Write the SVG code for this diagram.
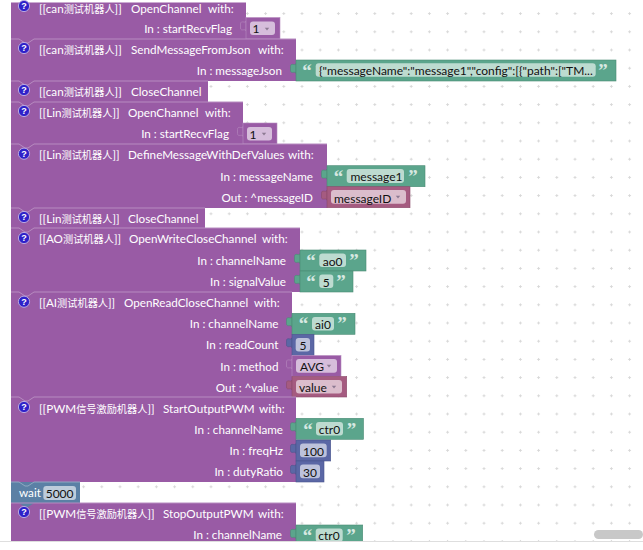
<svg xmlns="http://www.w3.org/2000/svg" width="643" height="550" viewBox="0 0 643 550">
<style>
text{font-family:"Lato","Noto Sans CJK SC",sans-serif;font-size:11.7px;fill:#fff}
.c{font-size:10.2px}
.e{text-anchor:end}
.f{fill:#111;text-anchor:middle;font-size:12px}
.s{fill:#111;font-size:12px}
.q{font-family:"Liberation Serif",serif;font-weight:bold;font-size:19px;fill:#d6e8e1;text-anchor:middle}
.h{font-family:"Liberation Sans",sans-serif;font-weight:bold;font-size:9px;text-anchor:middle}
.b{fill:#995ba5}
.hl{fill:none;stroke:#b78cc0;stroke-width:1}
.ic{fill:#2f21c9;stroke:#b9a8e0;stroke-width:1}
.g{fill:#5ba58c;stroke:#4a8a74;stroke-width:.6}
.n{fill:#5b67a5;stroke:#4a558c;stroke-width:.6}
.d{fill:#995ba5;stroke:#b78cc0;stroke-width:.6}
.v{fill:#a55b80;stroke:#8a4a6a;stroke-width:.6}
.w{fill:#5b80a5}
.fg{fill:#bddbd0}.fn{fill:#bdc2db}.fd{fill:#d6bddb}.fv{fill:#dbbdcc}.fw{fill:#bdccdb}
.ar{fill:#8d7a92}
</style>
<defs>
<pattern id="dots" width="18.2" height="18.2" patternUnits="userSpaceOnUse" patternTransform="translate(1.7 4.5)">
<path d="M7.6 9.1h3M9.1 7.6v3" stroke="#d8d8d8" stroke-width="1" fill="none"/>
</pattern>
<path id="tab" d="M0 3.5c0 3-5.5-1.5-5.5 3v4c0 4 5.5 0 5.5 3z"/>
<path id="arrow" d="M-2.2 -1.2h4.4l-2.2 2.6z"/>
</defs>
<rect width="643" height="550" fill="#fff"/>
<rect x="12" y="2" width="631" height="540" fill="url(#dots)"/>

<g id="block-can-open">
<rect class="b" x="11" y="2.5" width="235" height="36.5"/>
<circle class="ic" cx="24" cy="6" r="5.6"/><text class="h" x="24" y="9.2">?</text>
<text x="39" y="13">[[can<tspan class="c">测试机器人</tspan>]]</text><text x="131" y="13">OpenChannel</text><text x="208" y="13">with:</text>
<text class="e" x="232" y="33">In : startRecvFlag</text>
</g>
<g id="value-can-flag">
<use href="#tab" class="d" x="246" y="17.5"/><rect class="d" x="246" y="17.5" width="34" height="21.5"/>
<rect class="fd" x="250" y="21.5" width="25" height="13.5" rx="3"/><text class="f" x="256" y="33">1</text><use href="#arrow" class="ar" x="267" y="29"/>
</g>

<g id="block-can-send">
<rect class="b" x="11" y="39" width="285" height="42"/>
<path class="hl" d="M11 39H19l6 4h3l6-4H296"/>
<circle class="ic" cx="24" cy="48" r="5.6"/><text class="h" x="24" y="51.2">?</text>
<text x="39" y="54">[[can<tspan class="c">测试机器人</tspan>]]</text><text x="131" y="54">SendMessageFromJson</text><text x="258" y="54">with:</text>
<text class="e" x="282" y="75">In : messageJson</text>
</g>
<g id="value-message-json">
<use href="#tab" class="g" x="296" y="60"/><rect class="g" x="296" y="60" width="320" height="21"/>
<text class="q" x="307" y="77">“</text><rect class="fg" x="315.7" y="63.3" width="280" height="13.5" rx="3"/>
<text class="s" x="319" y="75">{"messageName":"message1","config":[{"path":["TM...</text><text class="q" x="603" y="77">”</text>
</g>

<g id="block-can-close">
<rect class="b" x="11" y="81" width="197" height="21"/>
<path class="hl" d="M11 81H19l6 4h3l6-4H208"/>
<circle class="ic" cx="24" cy="90" r="5.6"/><text class="h" x="24" y="93.2">?</text>
<text x="39" y="96">[[can<tspan class="c">测试机器人</tspan>]]</text><text x="131" y="96">CloseChannel</text>
</g>

<g id="block-lin-open">
<rect class="b" x="11" y="102" width="232" height="42"/>
<path class="hl" d="M11 102H19l6 4h3l6-4H243"/>
<circle class="ic" cx="24" cy="111" r="5.6"/><text class="h" x="24" y="114.2">?</text>
<text x="39" y="117">[[Lin<tspan class="c">测试机器人</tspan>]]</text><text x="128" y="117">OpenChannel</text><text x="205" y="117">with:</text>
<text class="e" x="229" y="138">In : startRecvFlag</text>
</g>
<g id="value-lin-flag">
<use href="#tab" class="d" x="243" y="123"/><rect class="d" x="243" y="123" width="34" height="21"/>
<rect class="fd" x="247" y="127" width="25" height="13.5" rx="3"/><text class="f" x="253" y="138.5">1</text><use href="#arrow" class="ar" x="264" y="134"/>
</g>

<g id="block-lin-define">
<rect class="b" x="11" y="144" width="316" height="64"/>
<path class="hl" d="M11 144H19l6 4h3l6-4H327"/>
<circle class="ic" cx="24" cy="153.7" r="5.6"/><text class="h" x="24" y="157">?</text>
<text x="39" y="158.5">[[Lin<tspan class="c">测试机器人</tspan>]]</text><text x="128" y="158.5">DefineMessageWithDefValues</text><text x="288" y="158.5">with:</text>
<text class="e" x="313" y="181">In : messageName</text>
<text class="e" x="313" y="202">Out : ^messageID</text>
</g>
<g id="value-message-name">
<use href="#tab" class="g" x="327" y="165.7"/><rect class="g" x="327" y="165.7" width="98" height="21"/>
<text class="q" x="338.5" y="183">“</text><rect class="fg" x="346.7" y="169" width="57.3" height="14" rx="3"/>
<text class="s" x="350.5" y="181.3">message1</text><text class="q" x="413" y="183">”</text>
</g>
<g id="value-message-id">
<use href="#tab" class="v" x="327" y="186.7"/><rect class="v" x="327" y="186.7" width="83" height="21"/>
<rect class="fv" x="331" y="190" width="75" height="13.7" rx="3"/><text class="s" x="334" y="202.5">messageID</text><use href="#arrow" class="ar" x="398" y="197"/>
</g>

<g id="block-lin-close">
<rect class="b" x="11" y="208" width="194" height="20"/>
<path class="hl" d="M11 208H19l6 4h3l6-4H205"/>
<circle class="ic" cx="24" cy="217" r="5.6"/><text class="h" x="24" y="220.2">?</text>
<text x="39" y="222.7">[[Lin<tspan class="c">测试机器人</tspan>]]</text><text x="128" y="222.7">CloseChannel</text>
</g>

<g id="block-ao">
<rect class="b" x="11" y="228" width="289" height="64"/>
<path class="hl" d="M11 228H19l6 4h3l6-4H300"/>
<circle class="ic" cx="24" cy="238" r="5.6"/><text class="h" x="24" y="241.2">?</text>
<text x="39" y="243.3">[[AO<tspan class="c">测试机器人</tspan>]]</text><text x="129" y="243.3">OpenWriteCloseChannel</text><text x="262" y="243.3">with:</text>
<text class="e" x="286" y="265">In : channelName</text>
<text class="e" x="286" y="286">In : signalValue</text>
</g>
<g id="value-ao0">
<use href="#tab" class="g" x="300" y="250"/><rect class="g" x="300" y="250" width="66" height="21"/>
<text class="q" x="311" y="267">“</text><rect class="fg" x="319.3" y="253.5" width="26.7" height="13.5" rx="3"/>
<text class="f" x="332.6" y="265.5">ao0</text><text class="q" x="354" y="267">”</text>
</g>
<g id="value-signal">
<use href="#tab" class="g" x="300" y="271"/><rect class="g" x="300" y="271" width="53" height="21"/>
<text class="q" x="311" y="288">“</text><rect class="fg" x="319.3" y="274.5" width="14" height="13.5" rx="3"/>
<text class="f" x="326.3" y="286.5">5</text><text class="q" x="341" y="288">”</text>
</g>

<g id="block-ai">
<rect class="b" x="11" y="292" width="281" height="105"/>
<path class="hl" d="M11 292H19l6 4h3l6-4H292"/>
<circle class="ic" cx="24" cy="301.7" r="5.6"/><text class="h" x="24" y="305">?</text>
<text x="39" y="306.7">[[AI<tspan class="c">测试机器人</tspan>]]</text><text x="124" y="306.7">OpenReadCloseChannel</text><text x="254" y="306.7">with:</text>
<text class="e" x="278.5" y="328">In : channelName</text>
<text class="e" x="278.5" y="349">In : readCount</text>
<text class="e" x="278.5" y="370.5">In : method</text>
<text class="e" x="278.5" y="391.5">Out : ^value</text>
</g>
<g id="value-ai0">
<use href="#tab" class="g" x="292" y="313.3"/><rect class="g" x="292" y="313.3" width="63" height="21"/>
<text class="q" x="303.5" y="330.3">“</text><rect class="fg" x="312" y="317" width="22" height="13.5" rx="3"/>
<text class="f" x="323" y="328.5">ai0</text><text class="q" x="342" y="330.3">”</text>
</g>
<g id="value-read-count">
<use href="#tab" class="n" x="292" y="334.3"/><rect class="n" x="292" y="334.3" width="22" height="21"/>
<rect class="fn" x="295.7" y="338" width="14.3" height="13.5" rx="3"/><text class="f" x="303" y="349.5">5</text>
</g>
<g id="value-method">
<use href="#tab" class="d" x="292" y="355.5"/><rect class="d" x="292" y="355.5" width="49" height="21"/>
<rect class="fd" x="296" y="359" width="41" height="13.7" rx="3"/><text class="s" x="300" y="371">AVG</text><use href="#arrow" class="ar" x="329" y="366"/>
</g>
<g id="value-value">
<use href="#tab" class="v" x="292" y="376.5"/><rect class="v" x="292" y="376.5" width="54.7" height="20.5"/>
<rect class="fv" x="296" y="380" width="46" height="13.5" rx="3"/><text class="s" x="299" y="392">value</text><use href="#arrow" class="ar" x="334" y="387"/>
</g>

<g id="block-pwm-start">
<rect class="b" x="11" y="397" width="285" height="85"/>
<path class="hl" d="M11 397H19l6 4h3l6-4H296"/>
<circle class="ic" cx="24" cy="407" r="5.6"/><text class="h" x="24" y="410.2">?</text>
<text x="39" y="412.7">[[PWM<tspan class="c">信号激励机器人</tspan>]]</text><text x="163" y="412.7">StartOutputPWM</text><text x="259" y="412.7">with:</text>
<text class="e" x="283" y="434">In : channelName</text>
<text class="e" x="283" y="455">In : freqHz</text>
<text class="e" x="283" y="476">In : dutyRatio</text>
</g>
<g id="value-ctr0-start">
<use href="#tab" class="g" x="296" y="418.3"/><rect class="g" x="296" y="418.3" width="67.5" height="21"/>
<text class="q" x="308" y="435.5">“</text><rect class="fg" x="316" y="422" width="27" height="13.5" rx="3"/>
<text class="f" x="329.5" y="434">ctr0</text><text class="q" x="351.5" y="435.5">”</text>
</g>
<g id="value-freq">
<use href="#tab" class="n" x="296" y="440"/><rect class="n" x="296" y="440" width="34.7" height="21"/>
<rect class="fn" x="300" y="443.5" width="26.7" height="13.7" rx="3"/><text class="f" x="313.5" y="455.5">100</text>
</g>
<g id="value-duty">
<use href="#tab" class="n" x="296" y="461"/><rect class="n" x="296" y="461" width="28" height="21"/>
<rect class="fn" x="300" y="464.5" width="20" height="13.7" rx="3"/><text class="f" x="310" y="476.5">30</text>
</g>

<g id="block-wait">
<path class="w" d="M11 482H80V503H34l-6 4h-3l-6-4H11z"/>
<path d="M11 482H19l6 4h3l6-4H80" fill="none" stroke="#8fa8c2"/>
<text x="19" y="497">wait</text>
<rect class="fw" x="43.3" y="486" width="32.7" height="14" rx="3"/><text class="f" x="59.6" y="498">5000</text>
</g>

<g id="block-pwm-stop">
<rect class="b" x="11" y="503" width="285" height="39"/>
<path class="w" d="M19 503l6 4h3l6-4z"/>
<path d="M11 503H296" fill="none" stroke="#b78cc0"/>
<circle class="ic" cx="24" cy="512" r="5.6"/><text class="h" x="24" y="515.2">?</text>
<text x="39" y="517.7">[[PWM<tspan class="c">信号激励机器人</tspan>]]</text><text x="163" y="517.7">StopOutputPWM</text><text x="258" y="517.7">with:</text>
<text class="e" x="282" y="539">In : channelName</text>
</g>
<g id="value-ctr0-stop">
<use href="#tab" class="g" x="296" y="525"/><rect class="g" x="296" y="525" width="66.7" height="17"/>
<text class="q" x="307.5" y="542">“</text><rect class="fg" x="315.7" y="528.5" width="27" height="13.5" rx="3"/>
<text class="f" x="329" y="540">ctr0</text><text class="q" x="351" y="542">”</text>
</g>

<rect x="0" y="542" width="643" height="8" fill="#fff"/>
<rect x="0" y="541" width="643" height="1" fill="#dedede"/>
<rect x="594" y="530" width="49" height="9" rx="4.5" fill="#c8c8c8"/>
</svg>
